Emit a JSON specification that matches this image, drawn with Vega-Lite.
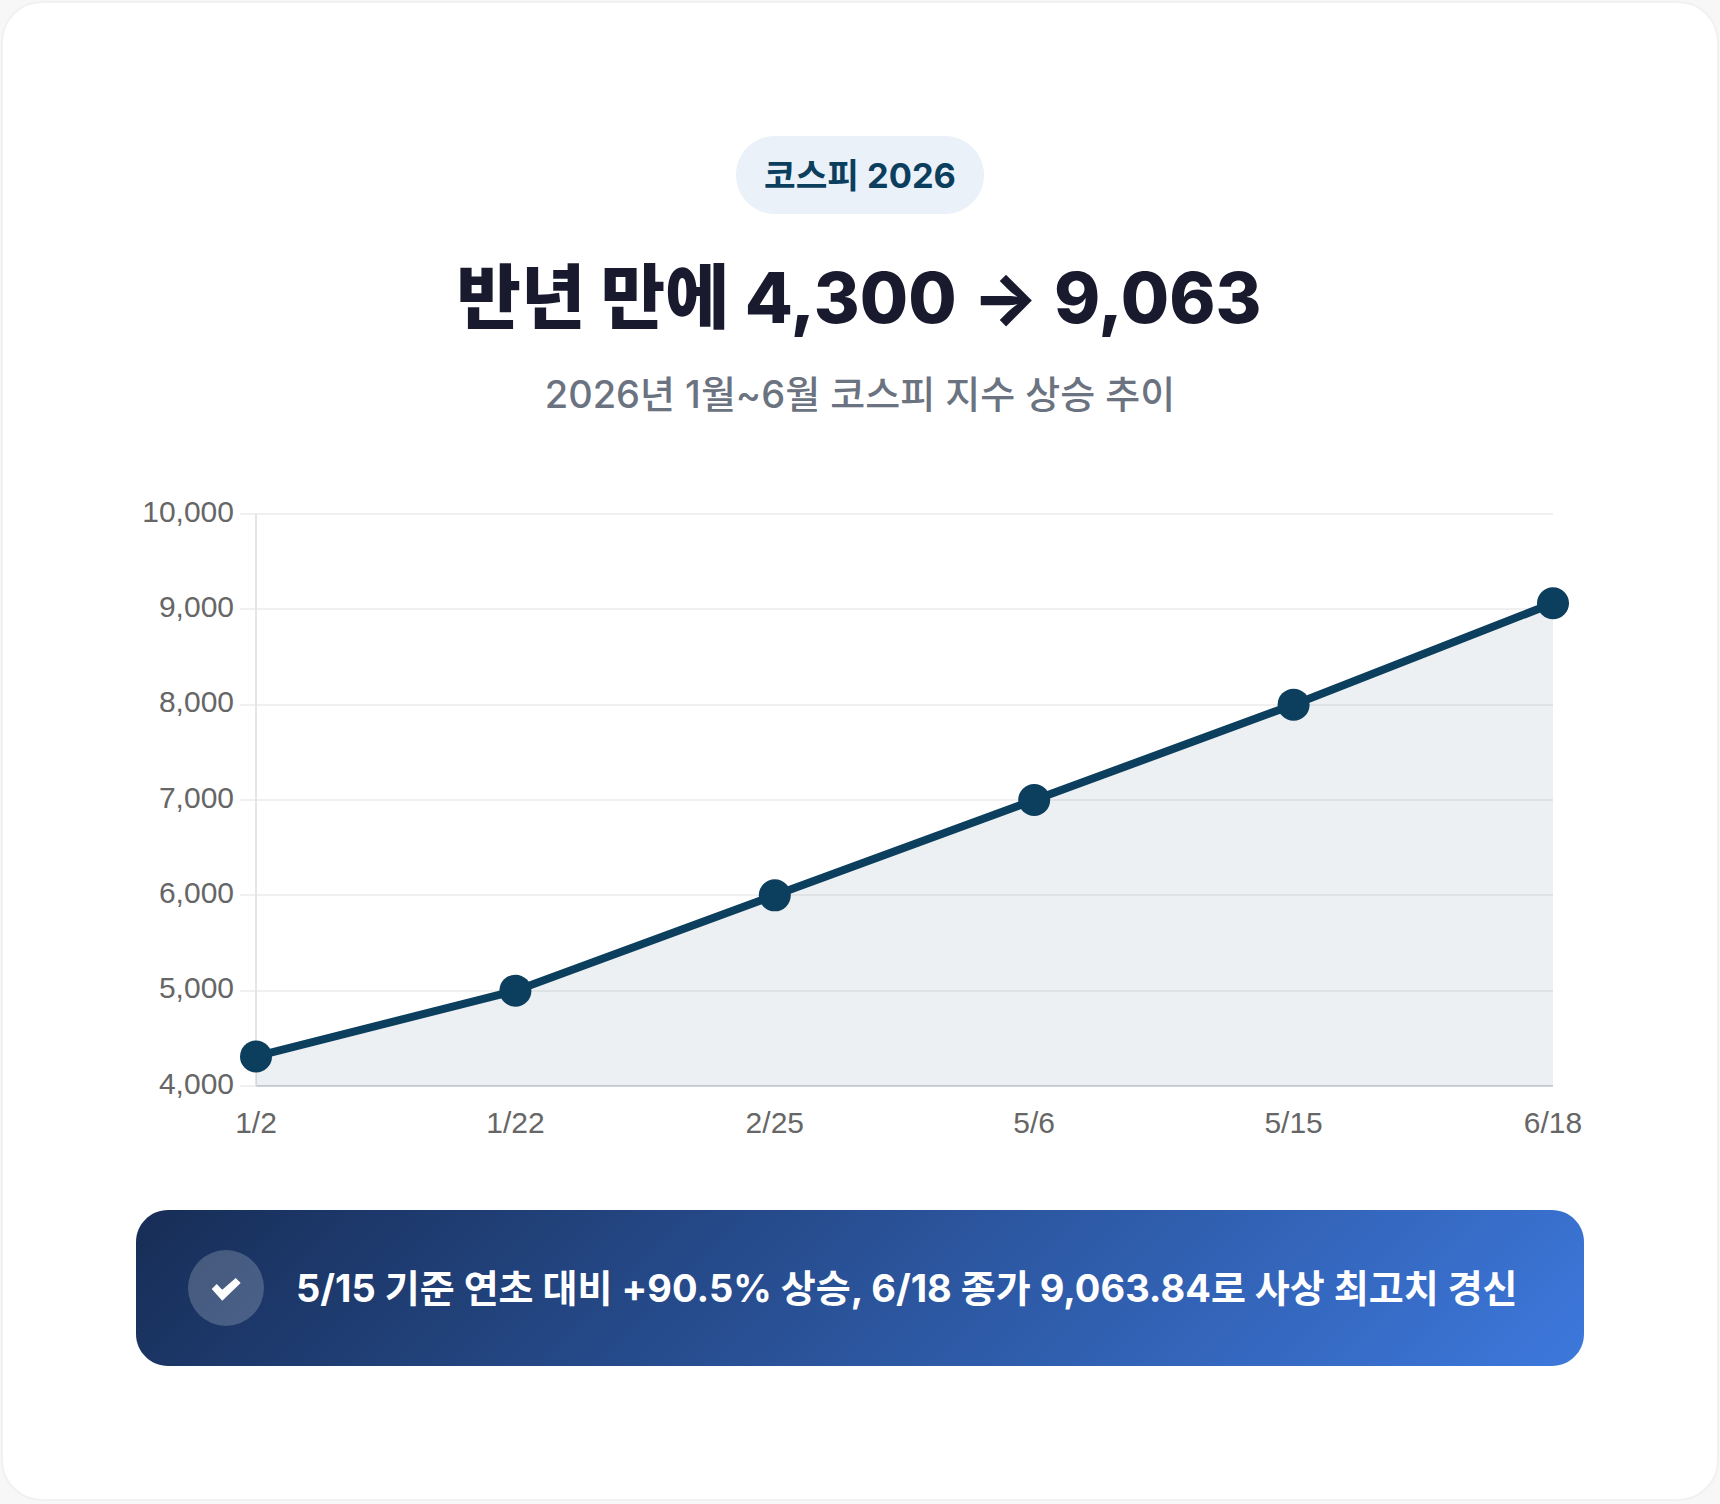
{
"$schema":"https://vega.github.io/schema/vega-lite/v6.json",
"width":1297,"height":572,
"autosize":{"type":"none"},
"padding":{"left":256,"top":514,"right":167,"bottom":418},
"background":"#ffffff",
"view":{"stroke":null},
"data":{"values":[
{"date":"1/2","kospi":4310},
{"date":"1/22","kospi":5000},
{"date":"2/25","kospi":6000},
{"date":"5/6","kospi":7000},
{"date":"5/15","kospi":8000},
{"date":"6/18","kospi":9063.84}
]},
"encoding":{
"x":{"field":"date","type":"ordinal","sort":null,"scale":{"type":"point","padding":0},
"axis":{"title":null,"translate":0,"labelAngle":0,"labelFont":"Liberation Sans","labelFontSize":30,"labelColor":"#666666","labelPadding":23,"ticks":false,"grid":false,"domainColor":"#d1d5db","domainWidth":2}},
"y":{"field":"kospi","type":"quantitative","scale":{"domain":[4000,10000],"nice":false,"zero":false},
"axis":{"title":null,"translate":0,"values":[4000,5000,6000,7000,8000,9000,10000],"format":",.0f","labelFont":"Liberation Sans","labelFontSize":30,"labelColor":"#666666","labelPadding":6,"labelOffset":-1.5,"tickSize":16,"tickColor":"#f0f0f0","tickWidth":2,"gridColor":"#f0f0f0","gridWidth":2,"domainColor":"#e5e5e5","domainWidth":2}}
},
"layer":[
{"data":{"values":[{"part":"page"}]},"mark":{"type":"rect","cornerRadius":60,"fill":"transparent","stroke":"#f7f7f7","strokeWidth":40},"encoding":{"x":{"value":-274},"x2":{"value":1482},"y":{"value":-532},"y2":{"value":1006}}},
{"data":{"values":[{"part":"card"}]},"mark":{"type":"rect","cornerRadius":40,"fill":"transparent","stroke":"#f1f1f1","strokeWidth":2},"encoding":{"x":{"value":-254},"x2":{"value":1462},"y":{"value":-512},"y2":{"value":986}}},
{"mark":{"type":"area","color":"#0c3e5e","opacity":0.08},"encoding":{"y2":{"datum":4000}}},
{"mark":{"type":"line","color":"#0c3e5e","strokeWidth":8}},
{"mark":{"type":"point","filled":true,"color":"#0c3e5e","opacity":1,"size":1024}},
{"data":{"values":[{"part":"pill"}]},"mark":{"type":"rect","cornerRadius":39,"fill":"#eaf1f9"},"encoding":{"x":{"value":480},"x2":{"value":728},"y":{"value":-378},"y2":{"value":-300}}},
{"data":{"values":[{"label":"코스피 2026"}]},"mark":{"type":"text","align":"center","baseline":"middle","font":"Inter, Noto Sans CJK KR","fontSize":34.4,"fontWeight":700,"color":"#0c3e5e"},"encoding":{"x":{"value":604},"y":{"value":-336},"text":{"field":"label"}}},
{"data":{"values":[{"label":"반년 만에 4,300 → 9,063"}]},"mark":{"type":"text","align":"center","baseline":"middle","font":"Inter, Noto Sans CJK KR","fontSize":70,"fontWeight":800,"color":"#1a1a2e"},"encoding":{"x":{"value":603},"y":{"value":-212},"text":{"field":"label"}}},
{"data":{"values":[{"label":"2026년 1월~6월 코스피 지수 상승 추이"}]},"mark":{"type":"text","align":"center","baseline":"middle","font":"Inter, Noto Sans CJK KR","fontSize":38,"fontWeight":500,"color":"#6b7280"},"encoding":{"x":{"value":604},"y":{"value":-117},"text":{"field":"label"}}},
{"data":{"values":[{"part":"banner"}]},"mark":{"type":"rect","cornerRadius":32,"fill":{"gradient":"linear","x1":0,"y1":0,"x2":1.095,"y2":0.118,"stops":[{"offset":0,"color":"#172d56"},{"offset":1,"color":"#3d78dc"}]}},"encoding":{"x":{"value":-120},"x2":{"value":1328},"y":{"value":696},"y2":{"value":852}}},
{"data":{"values":[{"part":"badge"}]},"mark":{"type":"point","filled":true,"shape":"circle","color":"#ffffff","opacity":0.2,"size":5776},"encoding":{"x":{"value":-30},"y":{"value":774}}},
{"data":{"values":[{"part":"check"}]},"mark":{"type":"point","filled":true,"shape":"M-0.95,0L-0.62,-0.33L-0.25,0.05L0.65,-0.73L0.98,-0.4L-0.25,0.78Z","color":"#ffffff","opacity":1,"size":900},"encoding":{"x":{"value":-30},"y":{"value":775}}},
{"data":{"values":[{"label":"5/15 기준 연초 대비 +90.5% 상승, 6/18 종가 9,063.84로 사상 최고치 경신"}]},"mark":{"type":"text","align":"left","baseline":"middle","font":"Inter, Noto Sans CJK KR","fontSize":38,"fontWeight":700,"color":"#ffffff"},"encoding":{"x":{"value":40},"y":{"value":777},"text":{"field":"label"}}}
]
}
